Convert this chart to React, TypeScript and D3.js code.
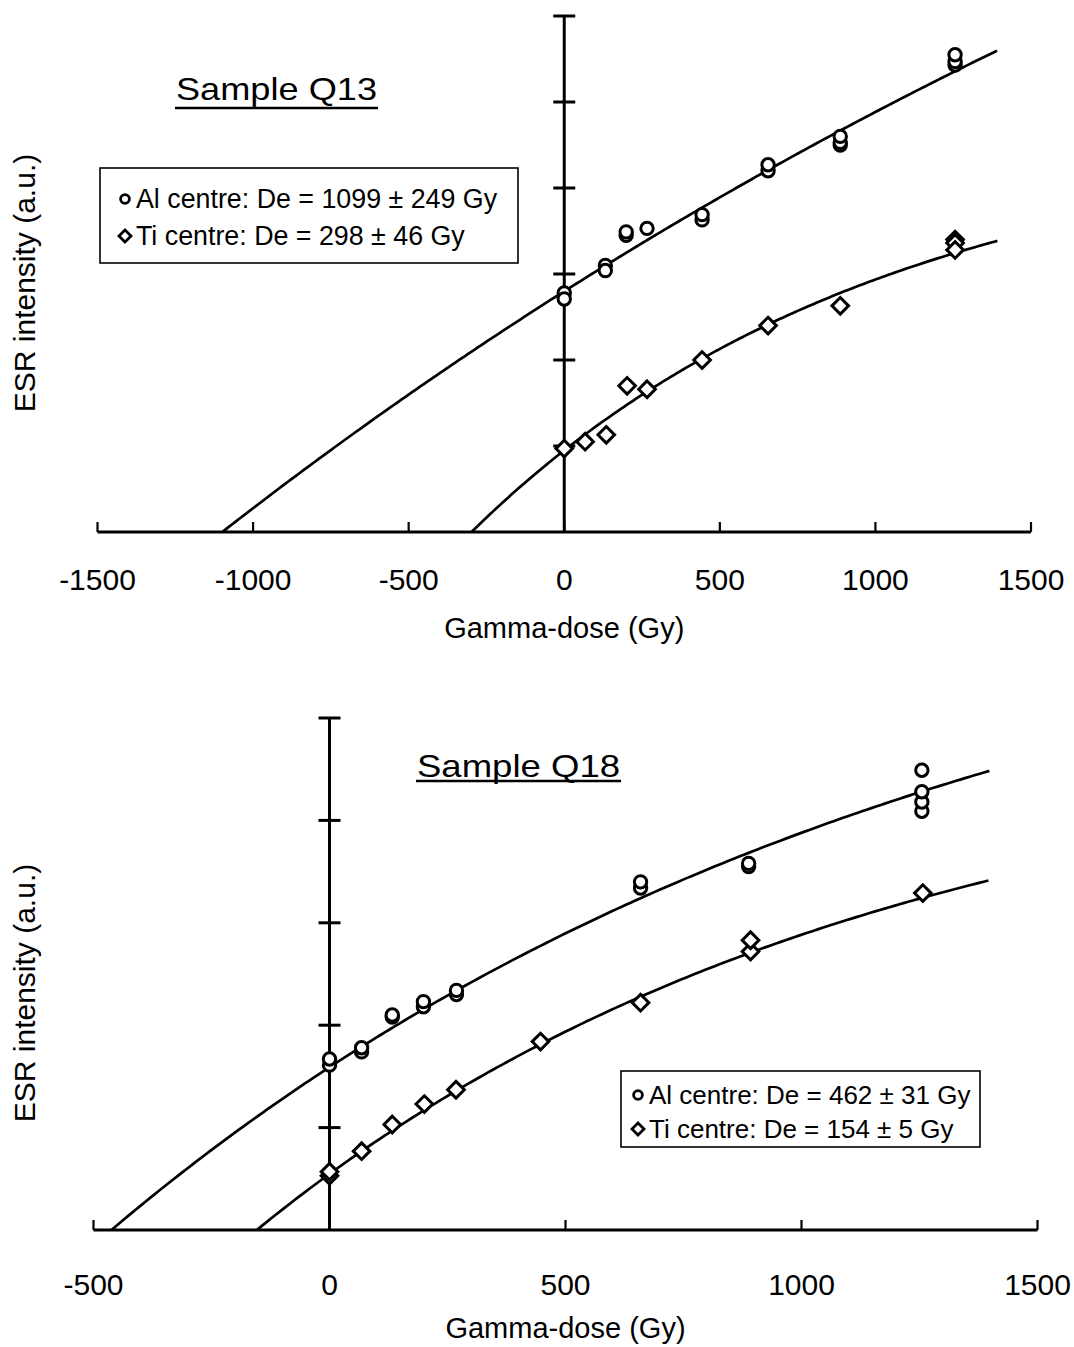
import React from "react";
import * as d3 from "d3";

// ---- Sample Q13 ----
const q13AlPoints: [number, number][] = [
  [0, 2.78], [0, 2.71], [132, 3.10], [132, 3.04], [199, 3.45], [199, 3.49],
  [266, 3.53], [443, 3.63], [443, 3.69], [655, 4.20], [655, 4.27],
  [887, 4.50], [887, 4.53], [887, 4.60], [1256, 5.43], [1256, 5.47], [1256, 5.55],
];
const q13TiPoints: [number, number][] = [
  [0, 0.97], [67, 1.05], [135, 1.13], [202, 1.70], [266, 1.66], [443, 2.0],
  [655, 2.40], [887, 2.63], [1256, 3.40], [1256, 3.36], [1256, 3.28],
];
// saturating-exponential fits: I = Imax * (1 - exp(-(D + De) / D0))
const q13AlFit = { de: 1099, d0: 5250, imax: 14.82 };
const q13TiFit = { de: 298, d0: 1315, imax: 4.68 };
const q13Ticks = [-1500, -1000, -500, 0, 500, 1000, 1500];
const q13Legend = ["Al centre: De = 1099 \u00b1 249 Gy", "Ti centre: De = 298 \u00b1 46 Gy"];

// ---- Sample Q18 ----
const q18AlPoints: [number, number][] = [
  [0, 1.61], [0, 1.67], [68, 1.74], [68, 1.78], [133, 2.08], [133, 2.10],
  [199, 2.18], [199, 2.23], [269, 2.30], [269, 2.34], [659, 3.34], [659, 3.40],
  [888, 3.55], [888, 3.58], [1255, 4.09], [1255, 4.18], [1255, 4.28], [1255, 4.49],
];
const q18TiPoints: [number, number][] = [
  [0, 0.53], [0, 0.57], [68, 0.77], [133, 1.03], [201, 1.23], [268, 1.37],
  [447, 1.84], [659, 2.22], [892, 2.72], [892, 2.83], [1257, 3.29],
];
const q18AlFit = { de: 462, d0: 1750, imax: 6.85 };
const q18TiFit = { de: 154, d0: 1300, imax: 4.9 };
const q18Ticks = [-500, 0, 500, 1000, 1500];
const q18Legend = ["Al centre: De = 462 \u00b1 31 Gy", "Ti centre: De = 154 \u00b1 5 Gy"];

const FONT = "'Liberation Sans', Arial, Helvetica, sans-serif";
const STROKE = 2.7;

type Fit = { de: number; d0: number; imax: number };

function fitCurve(fit: Fit, xMax: number): [number, number][] {
  const f = (d: number) => fit.imax * (1 - Math.exp(-(d + fit.de) / fit.d0));
  return d3.range(-fit.de, xMax + 1, 10).map((d) => [d, f(d)] as [number, number]);
}

function Circle({ cx, cy, r = 6.2, sw = 3 }: { cx: number; cy: number; r?: number; sw?: number }) {
  return <circle cx={cx} cy={cy} r={r} fill="#fff" stroke="#000" strokeWidth={sw} />;
}

function Diamond({ cx, cy, s = 8.3, sw = 3 }: { cx: number; cy: number; s?: number; sw?: number }) {
  const p = `M${cx},${cy - s}L${cx + s},${cy}L${cx},${cy + s}L${cx - s},${cy}Z`;
  return <path d={p} fill="#fff" stroke="#000" strokeWidth={sw} strokeLinejoin="miter" />;
}

type PanelProps = {
  xDomain: [number, number];
  xRange: [number, number];
  yMax: number;
  yRange: [number, number];
  ticks: number[];
  al: [number, number][];
  ti: [number, number][];
  alFit: Fit;
  tiFit: Fit;
  title: string;
  titleX: number;
  titleY: number;
  titleW: number;
  underlineDy: number;
  legend: string[];
  legendBox: [number, number, number, number];
  legendRows: number[];
  legendTextX: number;
  legendFont: number;
  tickLabelY: number;
  xTitleY: number;
  yTitleCy: number;
};

function Panel(p: PanelProps) {
  const x = d3.scaleLinear().domain(p.xDomain).range(p.xRange);
  const y = d3.scaleLinear().domain([0, p.yMax]).range(p.yRange);
  const x0 = x(0);
  const line = d3
    .line<[number, number]>()
    .x((d) => x(d[0]))
    .y((d) => y(d[1]));
  const yTicks = d3.range(1, p.yMax + 1);
  const [bx, by, bw, bh] = p.legendBox;
  const xMid = (p.xRange[0] + p.xRange[1]) / 2;
  return (
    <g fontFamily={FONT} fill="#000">
      {/* fitted growth curves */}
      <path d={line(fitCurve(p.alFit, 1400)) || ""} fill="none" stroke="#000" strokeWidth={STROKE} />
      <path d={line(fitCurve(p.tiFit, 1400)) || ""} fill="none" stroke="#000" strokeWidth={STROKE} />

      {/* x axis */}
      <line x1={p.xRange[0]} x2={p.xRange[1]} y1={y(0)} y2={y(0)} stroke="#000" strokeWidth={3} />
      {p.ticks.map((t) => (
        <g key={t}>
          <line x1={x(t)} x2={x(t)} y1={y(0)} y2={y(0) - 10} stroke="#000" strokeWidth={2.2} />
          <text x={x(t)} y={p.tickLabelY} fontSize={30} textAnchor="middle">
            {t}
          </text>
        </g>
      ))}
      <text x={xMid} y={p.xTitleY} fontSize={29} textAnchor="middle">
        Gamma-dose (Gy)
      </text>

      {/* y axis through zero dose */}
      <line x1={x0} x2={x0} y1={y(0)} y2={y(p.yMax)} stroke="#000" strokeWidth={3} />
      {yTicks.map((t) => (
        <line key={t} x1={x0 - 11} x2={x0 + 11} y1={y(t)} y2={y(t)} stroke="#000" strokeWidth={3} />
      ))}
      <text
        transform={`translate(35,${p.yTitleCy}) rotate(-90)`}
        fontSize={30}
        textAnchor="middle"
      >
        ESR intensity (a.u.)
      </text>

      {/* measured points */}
      {p.ti.map((d, i) => (
        <Diamond key={"t" + i} cx={x(d[0])} cy={y(d[1])} />
      ))}
      {p.al.map((d, i) => (
        <Circle key={"a" + i} cx={x(d[0])} cy={y(d[1])} />
      ))}

      {/* sample title */}
      <text x={p.titleX} y={p.titleY} fontSize={32} textLength={p.titleW} lengthAdjust="spacingAndGlyphs">
        {p.title}
      </text>
      <line
        x1={p.titleX - 1}
        x2={p.titleX + p.titleW + 1}
        y1={p.titleY + p.underlineDy}
        y2={p.titleY + p.underlineDy}
        stroke="#000"
        strokeWidth={2.4}
      />

      {/* legend */}
      <rect x={bx} y={by} width={bw} height={bh} fill="#fff" stroke="#000" strokeWidth={1.6} />
      <Circle cx={p.legendTextX - 11} cy={p.legendRows[0] - 9} r={4.4} sw={2.8} />
      <Diamond cx={p.legendTextX - 11} cy={p.legendRows[1] - 9} s={6} sw={2.8} />
      {p.legend.map((s, i) => (
        <text key={s} x={p.legendTextX} y={p.legendRows[i]} fontSize={p.legendFont}>
          {s}
        </text>
      ))}
    </g>
  );
}

export default function App() {
  return (
    <svg
      width={1074}
      height={1347}
      style={{ position: "absolute", left: 0, top: 0, background: "#fff" }}
    >
      <rect width={1074} height={1347} fill="#fff" />
      <Panel
        xDomain={[-1500, 1500]}
        xRange={[97.5, 1031]}
        yMax={6}
        yRange={[532, 16]}
        ticks={q13Ticks}
        al={q13AlPoints}
        ti={q13TiPoints}
        alFit={q13AlFit}
        tiFit={q13TiFit}
        title="Sample Q13"
        titleX={176}
        titleY={100}
        titleW={201}
        underlineDy={8}
        legend={q13Legend}
        legendBox={[100, 168, 418, 95]}
        legendRows={[208, 245]}
        legendTextX={136}
        legendFont={26.8}
        tickLabelY={590}
        xTitleY={638}
        yTitleCy={283}
      />
      <Panel
        xDomain={[-500, 1500]}
        xRange={[93.5, 1037.5]}
        yMax={5}
        yRange={[1230, 718]}
        ticks={q18Ticks}
        al={q18AlPoints}
        ti={q18TiPoints}
        alFit={q18AlFit}
        tiFit={q18TiFit}
        title="Sample Q18"
        titleX={417}
        titleY={777}
        titleW={203}
        underlineDy={4}
        legend={q18Legend}
        legendBox={[621, 1071, 359, 76]}
        legendRows={[1104, 1138]}
        legendTextX={649}
        legendFont={26}
        tickLabelY={1295}
        xTitleY={1338}
        yTitleCy={993}
      />
    </svg>
  );
}
